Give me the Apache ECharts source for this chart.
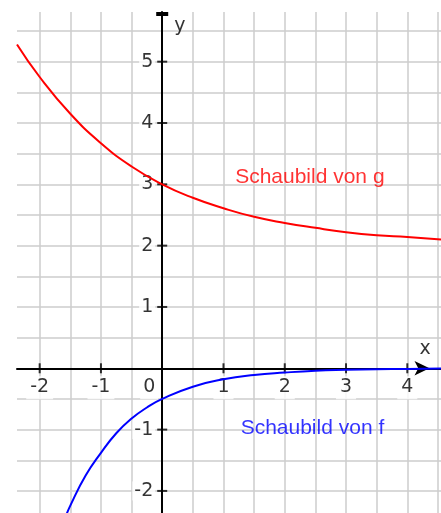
<!DOCTYPE html>
<html>
<head>
<meta charset="utf-8">
<script src="https://cdn.jsdelivr.net/npm/echarts@6/dist/echarts.min.js"></script>
<style>
html, body { margin: 0; padding: 0; background: #fff; }
#main { width: 441px; height: 513px; }
</style>
</head>
<body>
<div id="main"></div>
<script>
// Schaubild von g (rot)
var gX = [-2.37, -2, -1.5, -1, -0.5, 0, 0.5, 1, 1.5, 2, 2.5, 3, 3.5, 4, 4.55];
var gY = [5.28, 4.75, 4.15, 3.67, 3.29, 3.0, 2.78, 2.61, 2.47, 2.37, 2.29, 2.22, 2.17, 2.14, 2.10];

// Schaubild von f (blau)
var fX = [-1.58, -1.5, -1.25, -1, -0.75, -0.5, -0.25, 0, 0.5, 1, 1.5, 2, 2.5, 3, 3.5, 4, 4.55];
var fY = [-2.43, -2.24, -1.75, -1.38, -1.06, -0.82, -0.64, -0.5, -0.3, -0.18, -0.11, -0.07, -0.04, -0.025, -0.015, -0.01, -0.005];

// Karogitter und Achsenbeschriftung
var gridXValues = [-2, -1.5, -1, -0.5, 0.5, 1, 1.5, 2, 2.5, 3, 3.5, 4, 4.5];
var gridYValues = [-2, -1.5, -1, -0.5, 0.5, 1, 1.5, 2, 2.5, 3, 3.5, 4, 4.5, 5, 5.5];
var xTickLabels = [-2, -1, 1, 2, 3, 4];
var yTickLabels = [-2, -1, 1, 2, 3, 4, 5];

var xMin = -2.37, xMax = 4.55, yMin = -2.36, yMax = 5.81;

function pairs(xs, ys) {
  var out = [];
  for (var i = 0; i < xs.length; i++) out.push([xs[i], ys[i]]);
  return out;
}

var gridMarks = [];
gridXValues.forEach(function (v) { gridMarks.push({ xAxis: v }); });
gridYValues.forEach(function (v) { gridMarks.push({ yAxis: v }); });

var numFont = { fontFamily: 'DejaVu Sans', fontSize: 19, color: '#000' };
var textFont = { fontFamily: 'Liberation Sans', fontSize: 21 };

var chart = echarts.init(document.getElementById('main'));

var option = {
  animation: false,
  backgroundColor: '#fff',
  grid: { left: 17, right: 0, top: 12, bottom: 0 },
  xAxis: {
    type: 'value', min: xMin, max: xMax, z: 3,
    axisLine: {
      onZero: true,
      lineStyle: { color: '#000', width: 2 },
      symbol: ['none', 'arrow'], symbolSize: [11, 15], symbolOffset: [0, -11.5]
    },
    axisTick: { show: false }, axisLabel: { show: false }, splitLine: { show: false }
  },
  yAxis: {
    type: 'value', min: yMin, max: yMax, z: 3,
    axisLine: {
      onZero: true,
      lineStyle: { color: '#000', width: 2 },
      symbol: ['none', 'rect'], symbolSize: [12, 4], symbolOffset: [0, -2]
    },
    axisTick: { show: false }, axisLabel: { show: false }, splitLine: { show: false }
  },
  series: [
    {
      // Gitterlinien
      type: 'line', data: [], z: 1, silent: true,
      markLine: {
        z: 1, silent: true, symbol: ['none', 'none'], label: { show: false },
        lineStyle: { color: '#cdcdcd', width: 1.5, type: 'solid' },
        emphasis: { disabled: true },
        data: gridMarks
      }
    },
    {
      // x-Achse: Teilstriche + Zahlen
      type: 'scatter', z: 2, silent: true,
      symbol: 'rect', symbolSize: [2, 10],
      itemStyle: { color: '#000' },
      label: Object.assign({
        show: true, position: 'bottom', distance: 3,
        backgroundColor: '#fff', padding: [1, 4, 3, 4],
        formatter: function (p) { return String(p.value[0]); }
      }, numFont),
      data: xTickLabels.map(function (v) { return [v, 0]; })
    },
    {
      // y-Achse: Teilstriche + Zahlen
      type: 'scatter', z: 2, silent: true,
      symbol: 'rect', symbolSize: [10, 2],
      itemStyle: { color: '#000' },
      label: Object.assign({
        show: true, position: 'left', distance: 2,
        backgroundColor: '#fff', padding: [0, 2, 0, 2],
        formatter: function (p) { return String(p.value[1]); }
      }, numFont),
      data: yTickLabels.map(function (v) { return [0, v]; })
    },
    {
      // Ursprung "0", Achsennamen und Beschriftungen
      type: 'scatter', z: 2, silent: true, symbolSize: 0,
      data: [
        { value: [0, 0], label: Object.assign({ show: true, position: 'bottom', distance: 8, offset: [-13, 0], formatter: '0', backgroundColor: '#fff', padding: [1, 3, 3, 3] }, numFont) },
        { value: [4.29, 0.31], label: Object.assign({ show: true, position: 'inside', formatter: 'x' }, numFont) },
        { value: [0.29, 5.58], label: Object.assign({ show: true, position: 'inside', formatter: 'y' }, numFont) },
        { value: [1.19, 3.12], label: Object.assign({ show: true, position: 'right', distance: 0, formatter: 'Schaubild von g', color: '#ff0000' }, textFont) },
        { value: [1.28, -0.97], label: Object.assign({ show: true, position: 'right', distance: 0, formatter: 'Schaubild von f', color: '#0000ff' }, textFont) }
      ]
    },
    {
      name: 'g', type: 'line', z: 5, silent: true,
      data: pairs(gX, gY), showSymbol: false, smooth: true,
      lineStyle: { color: '#ff0000', width: 2 }
    },
    {
      name: 'f', type: 'line', z: 5, silent: true,
      data: pairs(fX, fY), showSymbol: false, smooth: true,
      lineStyle: { color: '#0000ff', width: 2 }
    }
  ]
};

chart.setOption(option);
</script>
</body>
</html>
